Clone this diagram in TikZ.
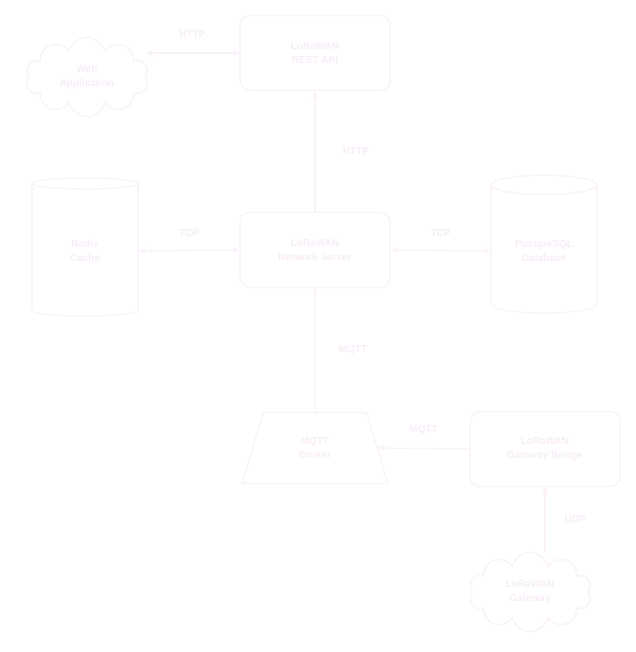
\documentclass[tikz,border=0pt]{standalone}
\usepackage{fontspec}
\setsansfont{Liberation Sans}
\usetikzlibrary{arrows.meta,shapes.geometric,shapes.symbols}
\definecolor{lrwLine}{HTML}{FAF1FA}
\definecolor{lrwText}{HTML}{F7ECF7}
\tikzset{
  lrw link/.style={draw=lrwLine, line width=1.3pt},
  lrw box/.style={rectangle, rounded corners=10pt, draw=lrwLine, line width=1.3pt, minimum width=150pt, minimum height=75pt, align=center},
  lrw cloud/.style={cloud, cloud puffs=10, aspect=1.6, draw=lrwLine, line width=1.3pt, minimum width=123pt, minimum height=79pt, inner sep=0pt, align=center},
  lrw store/.style={cylinder, shape border rotate=90, aspect=0.3, draw=lrwLine, line width=1.3pt, minimum width=106pt, minimum height=138pt, align=center},
  lrw broker/.style={trapezium, trapezium left angle=74, trapezium right angle=74, trapezium stretches=true, draw=lrwLine, line width=1.3pt, minimum width=146pt, minimum height=71pt, align=center},
  lrw text/.style={font=\sffamily\bfseries\fontsize{10}{14}\selectfont, text=lrwText},
  lrw tag/.style={font=\sffamily\bfseries\fontsize{10}{12}\selectfont, text=lrwText},
}

\begin{document}
\begin{tikzpicture}[x=1pt,y=-1pt]
  \useasboundingbox (0,0) rectangle (635,652);
  % upper row
  \node[lrw cloud, lrw text] (webapp) at (87,77) {Web\\Application};
  \node[lrw box, lrw text] (restapi) at (315,53) {LoRaWAN\\REST API};
  % middle row
  \node[lrw store, lrw text] (redis) at (85,251) {Redis\\Cache};
  \node[lrw box, lrw text] (netserver) at (315,250) {LoRaWAN\\Network Server};
  \node[lrw store, lrw text] (postgres) at (544,251) {PostgreSQL\\Database};
  % lower part
  \node[lrw broker, lrw text] (broker) at (315,448) {MQTT\\Broker};
  \node[lrw box, lrw text] (bridge) at (545,449) {LoRaWAN\\Gateway Bridge};
  \node[lrw cloud, lrw text] (gateway) at (530,592) {LoRaWAN\\Gateway};
  % connectors
  \draw[lrw link, {Stealth[length=7pt,width=6pt]}-{Stealth[length=7pt,width=6pt]}] (restapi.west -| webapp.east) -- (restapi.west)
    node[lrw tag, midway, above=12pt] {HTTP};
  \draw[lrw link, -{Stealth[length=7pt,width=6pt]}] (netserver.north) -- (restapi.south)
    node[lrw tag, midway, right=24pt] {HTTP};
  \draw[lrw link, {Stealth[length=7pt,width=6pt]}-{Stealth[length=7pt,width=6pt]}] (redis.east) -- (netserver.west)
    node[lrw tag, midway, above=10pt] {TCP};
  \draw[lrw link, {Stealth[length=7pt,width=6pt]}-{Stealth[length=7pt,width=6pt]}] (netserver.east) -- (postgres.west)
    node[lrw tag, midway, above=10pt] {TCP};
  \draw[lrw link, -{Stealth[length=7pt,width=6pt]}] (broker.north) -- (netserver.south)
    node[lrw tag, midway, right=20pt] {MQTT};
  \draw[lrw link, -{Stealth[length=7pt,width=6pt]}] (bridge.west) -- (broker.east)
    node[lrw tag, midway, above=10pt] {MQTT};
  \draw[lrw link, -{Stealth[length=7pt,width=6pt]}] (bridge.south |- gateway.north) -- (bridge.south)
    node[lrw tag, midway, right=16pt] {UDP};
\end{tikzpicture}
\end{document}
